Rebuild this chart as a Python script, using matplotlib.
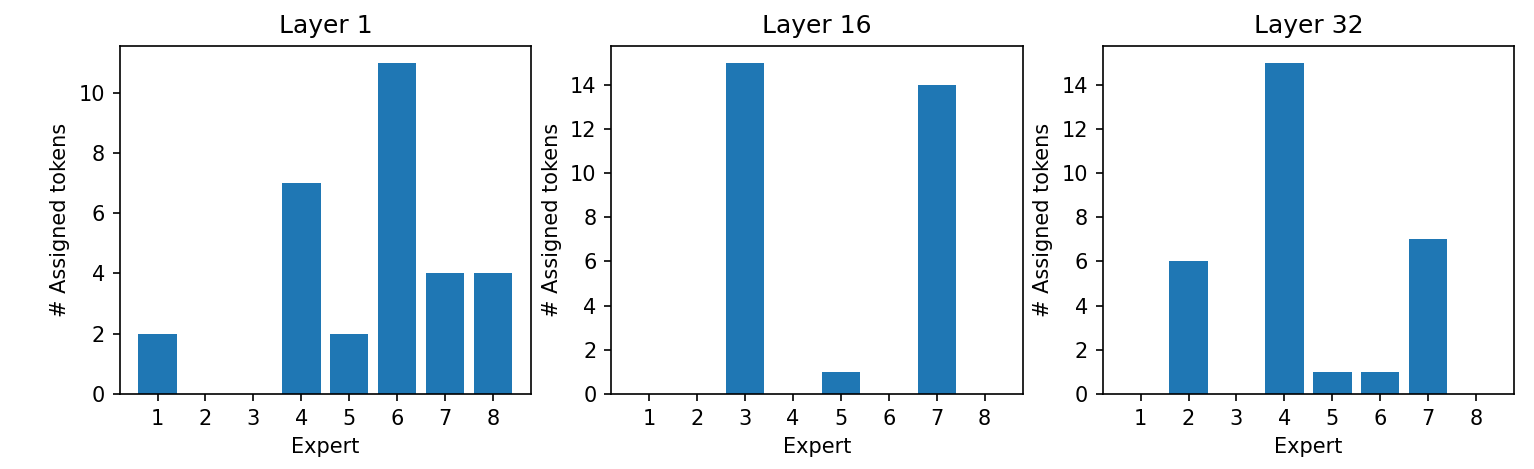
import numpy as np
import matplotlib
matplotlib.use("Agg")
import matplotlib.pyplot as plt

experts = [1, 2, 3, 4, 5, 6, 7, 8]
layer_names = ["Layer 1", "Layer 16", "Layer 32"]
layer1_counts = [2, 0, 0, 7, 2, 11, 4, 4]
layer16_counts = [0, 0, 15, 0, 1, 0, 14, 0]
layer32_counts = [0, 6, 0, 15, 1, 1, 7, 0]

all_counts = [layer1_counts, layer16_counts, layer32_counts]

# original looks like a default figure saved at ~150 dpi
fig, axes = plt.subplots(1, 3, figsize=(1534 / 150, 469 / 150), dpi=150)
fig.subplots_adjust(left=0.078, right=0.987, top=0.902, bottom=0.16, wspace=0.195)

for ax, name, counts in zip(axes, layer_names, all_counts):
    ax.bar(experts, counts, color="#1f77b4")
    ax.set_title(name)
    ax.set_xlabel("Expert")
    ax.set_ylabel("# Assigned tokens")
    ax.set_xticks(experts)

plt.savefig("out.png", dpi=150)
